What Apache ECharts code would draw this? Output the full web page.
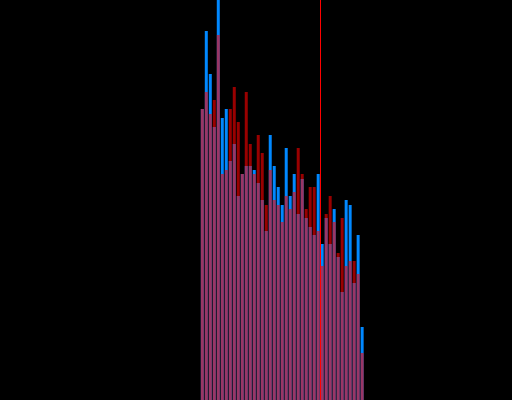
<!DOCTYPE html>
<html>
<head>
<meta charset="utf-8">
<script src="https://cdn.jsdelivr.net/npm/echarts@6/dist/echarts.min.js"></script>
<style>
  html, body { margin: 0; padding: 0; background: #000; }
  #chart { width: 512px; height: 400px; }
</style>
</head>
<body>
<div id="chart"></div>
<script>
// bins on the x axis: data starts at bin 50, marker sits at bin 80
const firstBin = 50;
const markerBin = 80;
const binCount = 128;

// blue series (drawn underneath)
const blueValues = [
  72.75, 92.25, 81.5, 68.25, 104, 70.5, 72.75, 59.75, 64, 51,
  56.5, 58.5, 58.5, 57.5, 54.25, 50, 42.25, 66.25, 58.5, 53.25,
  48.75, 63, 51, 56.5, 46.5, 55.25, 45.5, 43.25, 41.25, 56.5,
  39, 45.5, 39, 47.75, 35.75, 27, 50, 48.75, 29.25, 41.25,
  18.25
];

// red series (translucent, drawn on top)
const redValues = [
  72.75, 77, 71.5, 75, 91.25, 56.5, 57.5, 72.75, 78.25, 69.5,
  56.5, 77, 64, 56.5, 66.25, 61.75, 48.75, 57.5, 50, 48.75,
  44.5, 51, 47.75, 52, 63, 56.5, 47.75, 53.25, 53.25, 42.25,
  33.5, 46.5, 51, 44.5, 36.75, 45.5, 33.5, 34.75, 34.75, 31.5,
  11.75
];

function toPoints(values) {
  return values.map(function (v, i) {
    return [firstBin + i + 0.5, v];
  });
}

const chart = echarts.init(document.getElementById('chart'));
chart.setOption({
  backgroundColor: '#000',
  animation: false,
  grid: { left: 0.5, top: 0, width: 512, bottom: 0 },
  xAxis: {
    type: 'value',
    min: 0,
    max: binCount,
    show: false,
    splitLine: { show: false }
  },
  yAxis: {
    type: 'value',
    min: 0,
    max: 100,
    show: false,
    splitLine: { show: false }
  },
  series: [
    {
      name: 'blue',
      type: 'bar',
      barWidth: 3,
      barGap: '-100%',
      itemStyle: { color: '#0088ff' },
      data: toPoints(blueValues)
    },
    {
      name: 'red',
      type: 'bar',
      barWidth: 3,
      barGap: '-100%',
      itemStyle: { color: 'rgba(255,0,0,0.6)' },
      data: toPoints(redValues),
      markLine: {
        silent: true,
        symbol: 'none',
        label: { show: false },
        lineStyle: { color: '#ff0000', width: 1, type: 'solid', opacity: 1 },
        data: [{ xAxis: markerBin }]
      }
    }
  ]
});
</script>
</body>
</html>
